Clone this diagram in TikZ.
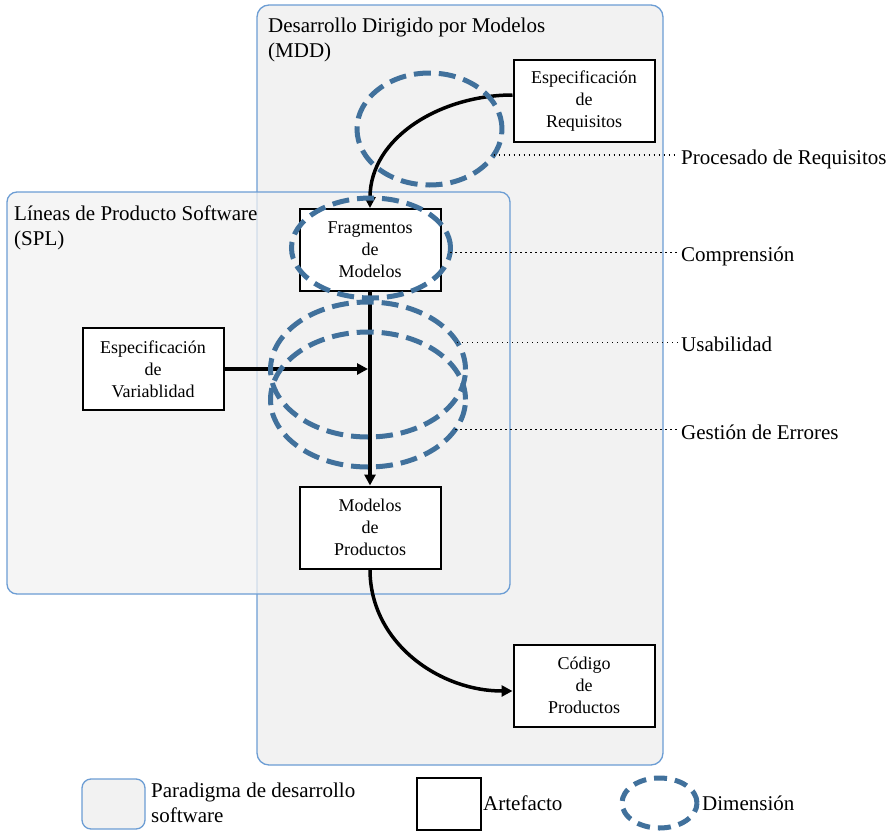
\documentclass[tikz,border=0pt]{standalone}
\usepackage{fontspec}
\setmainfont{Liberation Serif}
\usetikzlibrary{arrows.meta,shapes.geometric}
\definecolor{paraline}{RGB}{108,157,212}
\definecolor{parafill}{RGB}{242,242,242}
\definecolor{dimblue}{RGB}{65,113,156}

\begin{document}
\begin{tikzpicture}[x=1pt,y=-1pt,
  paradigm/.style={draw=paraline, line width=1.3pt, fill=parafill, rounded corners=12pt, inner sep=0pt},
  artefact/.style={draw=black, line width=2pt, fill=white, minimum width=141pt, minimum height=82pt,
    inner sep=0pt, align=center, font=\fontsize{18}{22}\selectfont},
  dimension/.style={ellipse, draw=dimblue, line width=5pt, dash pattern=on 17pt off 8pt,
    inner sep=0pt, outer sep=0pt},
  flow/.style={line width=3.5pt, -{Triangle[length=11pt,width=11pt]}},
  leader/.style={line width=1.3pt, dash pattern=on 1.3pt off 3.7pt, shorten >=3pt},
  lbl/.style={inner sep=0pt, font=\fontsize{21}{25}\selectfont},
]
\useasboundingbox (0,0) rectangle (887,833);
\fill[white] (0,0) rectangle (887,833);

% development paradigms
\node[paradigm, minimum width=406pt, minimum height=760pt] (mdd) at (460,385) {};
\node[paradigm, rounded corners=10pt, fill opacity=0.75, minimum width=503pt, minimum height=402pt] (spl) at (258.5,393) {};
\node[lbl, anchor=north west, align=left] (mddtitle) at (268,18) {Desarrollo Dirigido por Modelos\\(MDD)};
\node[lbl, anchor=north west, align=left] (spltitle) at (14,206) {Líneas de Producto Software\\(SPL)};

% artefacts
\node[artefact] (req)  at (584,101)   {Especificación\\de\\Requisitos};
\node[artefact] (frag) at (370,250)   {Fragmentos\\de\\Modelos};
\node[artefact] (var)  at (153,369)   {Especificación\\de\\Variablidad};
\node[artefact] (mod)  at (370,527.5) {Modelos\\de\\Productos};
\node[artefact] (cod)  at (584,685.5) {Código\\de\\Productos};

% flow between artefacts
\coordinate (join) at (368,369);
\draw[flow] ([yshift=6pt]req.west) to[out=180,in=90] (frag.north);
\draw[flow] (frag.south) -- (mod.north);
\draw[flow] (var.east) -- (join);
\draw[flow] (mod.south) to[out=-90,in=180] ([yshift=-5.5pt]cod.west);

% dimensions
\node[dimension, minimum width=145pt, minimum height=112pt] (ellP) at (429.5,129) {};
\node[dimension, minimum width=159pt, minimum height=100pt] (ellC) at (371,248) {};
\node[dimension, minimum width=195pt, minimum height=135pt] (ellU) at (368,369.5) {};
\node[dimension, minimum width=195pt, minimum height=135pt] (ellG) at (368,399.5) {};

% dimension labels
\node[lbl, anchor=base west] (lP) at (681,164) {Procesado de Requisitos};
\node[lbl, anchor=base west] (lC) at (681,261) {Comprensión};
\node[lbl, anchor=base west] (lU) at (681,351) {Usabilidad};
\node[lbl, anchor=base west] (lG) at (681,439) {Gestión de Errores};
\draw[leader] (ellP.-22) -- (ellP.-22 -| lP.west);
\draw[leader] (ellC.-3)  -- (ellC.-3 -| lC.west);
\draw[leader] (ellU.17)  -- (ellU.17 -| lU.west);
\draw[leader] (ellG.-19) -- (ellG.-19 -| lG.west);

% legend
\node[paradigm, rounded corners=9pt, minimum width=63pt, minimum height=50pt] (keyP) at (113.5,804) {};
\node[lbl, anchor=west, align=left] (keyPtext) at (151,803) {Paradigma de desarrollo\\software};
\node[draw, line width=2pt, fill=white, minimum width=64pt, minimum height=52pt] (keyA) at (449,804) {};
\node[lbl, anchor=base west] (keyAtext) at (483,810) {Artefacto};
\node[dimension, dash pattern=on 13pt off 8pt, minimum width=75pt, minimum height=50pt] (keyD) at (659.5,803) {};
\node[lbl, anchor=base west] (keyDtext) at (702,810) {Dimensión};
\end{tikzpicture}
\end{document}
